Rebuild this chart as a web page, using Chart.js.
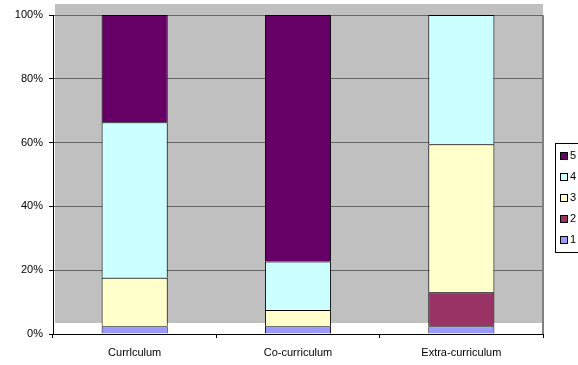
<!DOCTYPE html>
<html>
<head>
<meta charset="utf-8">
<script src="https://cdn.jsdelivr.net/npm/chart.js@4.4.1/dist/chart.umd.min.js"></script>
<style>
  html, body { margin: 0; padding: 0; background: #fff; overflow: hidden; }
  #wrap { width: 578px; height: 365px; }
</style>
</head>
<body>
<div id="wrap"><canvas id="grafico" width="578" height="365"></canvas></div>
<script>
// categorias y porcentajes por nivel de respuesta (1..5)
const categorias = ["Currlculum", "Co-curriculum", "Extra-curriculum"];
const nivel1 = [2.4, 2.4, 2.4];
const nivel2 = [0, 0, 10.7];
const nivel3 = [15.2, 5.1, 46.4];
const nivel4 = [48.8, 15.2, 40.5];
const nivel5 = [33.6, 77.3, 0];
const marcasY = [0, 20, 40, 60, 80, 100];

const colores = ["#9999FF", "#993366", "#FFFFCC", "#CCFFFF", "#660066"];
const series = [nivel1, nivel2, nivel3, nivel4, nivel5];

// fondo gris del area de trazado (desplazado hacia arriba como en el original)
const fondoGris = {
    id: "fondoGris",
    beforeDraw(chart) {
        const a = chart.chartArea;
        const ctx = chart.ctx;
        ctx.save();
        ctx.fillStyle = "#C0C0C0";
        ctx.fillRect(a.left + 2, a.top - 11, a.right - a.left - 2, a.bottom - a.top);
        ctx.restore();
    },
    afterDraw(chart) {
        // borde derecho del area de trazado
        const a = chart.chartArea;
        const ctx = chart.ctx;
        ctx.save();
        ctx.strokeStyle = "#808080";
        ctx.lineWidth = 2;
        ctx.beginPath();
        ctx.moveTo(a.right, a.top);
        ctx.lineTo(a.right, a.bottom);
        ctx.stroke();
        ctx.restore();
    }
};

// leyenda con recuadro, 5 arriba
const leyenda = {
    id: "leyenda",
    afterDraw(chart) {
        const ctx = chart.ctx;
        const x = 555, y0 = 143, paso = 21;
        const sets = chart.data.datasets;
        ctx.save();
        ctx.strokeStyle = "#000";
        ctx.lineWidth = 1;
        ctx.strokeRect(x + 0.5, y0 + 0.5, 40, paso * sets.length + 4);
        ctx.font = "11px 'Liberation Sans', Arial, sans-serif";
        ctx.textBaseline = "middle";
        for (let i = sets.length - 1, k = 0; i >= 0; i--, k++) {
            const cy = y0 + 13 + k * paso;
            ctx.fillStyle = sets[i].backgroundColor;
            ctx.fillRect(x + 6, cy - 3, 6, 6);
            ctx.strokeRect(x + 5.5, cy - 3.5, 7, 7);
            ctx.fillStyle = "#000";
            ctx.fillText(sets[i].label, x + 15, cy);
        }
        ctx.restore();
    }
};

const ctx = document.getElementById("grafico").getContext("2d");
new Chart(ctx, {
    type: "bar",
    data: {
        labels: categorias,
        datasets: series.map((valores, i) => ({
            label: String(i + 1),
            data: valores,
            backgroundColor: colores[i],
            borderColor: "#000",
            // sin borde para los tramos vacios; la base la cubre el tramo de abajo
            borderWidth: c => (c.raw ? 1 : 0),
            borderSkipped: "start",
            barPercentage: 0.405,
            categoryPercentage: 1
        }))
    },
    options: {
        responsive: false,
        animation: false,
        layout: { padding: { top: 15, right: 35, left: 0, bottom: 0 } },
        plugins: {
            legend: { display: false },
            tooltip: { enabled: false }
        },
        scales: {
            x: {
                stacked: true,
                offset: true,
                border: { color: "#000", width: 1 },
                grid: {
                    offset: true,
                    drawOnChartArea: false,
                    drawTicks: true,
                    tickLength: 4,
                    color: "#000"
                },
                ticks: {
                    color: "#000",
                    padding: 8,
                    font: { family: "'Liberation Sans', Arial", size: 11 }
                },
                afterFit(s) { s.height = 31; }
            },
            y: {
                stacked: true,
                min: 0,
                max: 100,
                border: { color: "#000", width: 1 },
                grid: {
                    color: "#666666",
                    tickColor: "#000",
                    tickLength: 4
                },
                afterBuildTicks(s) { s.ticks = marcasY.map(v => ({ value: v })); },
                ticks: {
                    color: "#000",
                    padding: 6,
                    font: { family: "'Liberation Sans', Arial", size: 11 },
                    callback: v => v + "%"
                },
                afterFit(s) { s.width = 53; }
            }
        }
    },
    plugins: [fondoGris, leyenda]
});
</script>
</body>
</html>
